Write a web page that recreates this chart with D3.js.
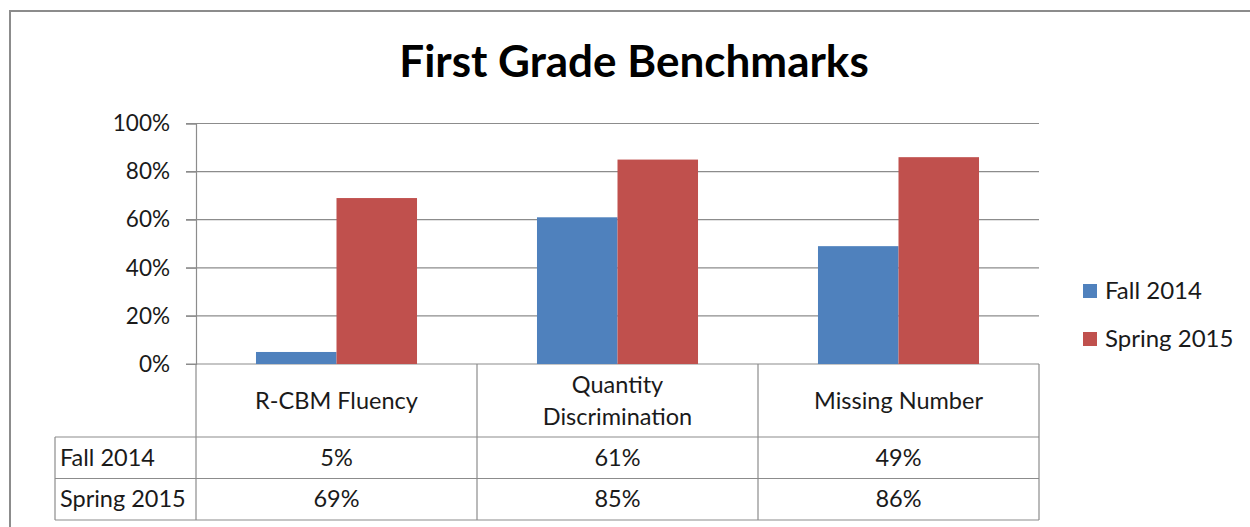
<!DOCTYPE html>
<html>
  <head>
    <title>First Grade Benchmarks</title>
    <script src="https://cdn.jsdelivr.net/npm/d3@7"></script>
    <style>
      body { margin: 0; background: #fff; }
      svg { font-family: Lato, "Open Sans", sans-serif; }
    </style>
  </head>
  <body>
    <svg id="chart" width="1250" height="527"></svg>
    <script>
      const categories = ["R-CBM Fluency", "Quantity Discrimination", "Missing Number"];
      const categoryLines = [["R-CBM Fluency"], ["Quantity", "Discrimination"], ["Missing Number"]];
      const seriesNames = ["Fall 2014", "Spring 2015"];
      const fall2014 = [0.05, 0.61, 0.49];
      const spring2015 = [0.69, 0.85, 0.86];
      const yTicks = [0, 0.2, 0.4, 0.6, 0.8, 1.0];
      const colors = ["#4F81BD", "#C0504D"];

      const seriesValues = [fall2014, spring2015];
      const svg = d3.select("#chart");
      const textColor = "#1a1a1a";

      // outer chart border (runs off the right and bottom edge)
      svg.append("rect")
        .attr("x", 10).attr("y", 11)
        .attr("width", 1260).attr("height", 540)
        .attr("fill", "none").attr("stroke", "#8c8c8c").attr("stroke-width", 2);

      svg.append("text")
        .attr("x", 634).attr("y", 77)
        .attr("text-anchor", "middle")
        .attr("font-size", 44).attr("font-weight", "bold")
        .attr("fill", "#000")
        .text("First Grade Benchmarks");

      const plotLeft = 196, plotRight = 1039, plotTop = 123.5, plotBottom = 364;
      const gridColor = "#8c8c8c";

      const x0 = d3.scaleBand().domain(categories).range([plotLeft, plotRight]);
      const x1 = d3.scaleBand().domain(seriesNames).range([0, x0.bandwidth()]).paddingOuter(0.745);
      const y = d3.scaleLinear().domain([0, 1]).range([plotBottom, plotTop]);

      // gridlines
      svg.append("g")
        .selectAll("line")
        .data(yTicks)
        .join("line")
        .attr("x1", plotLeft - 10).attr("x2", plotRight)
        .attr("y1", d => y(d)).attr("y2", d => y(d))
        .attr("stroke", gridColor).attr("stroke-width", 1.2);

      // y axis
      const yAxis = svg.append("g")
        .attr("transform", `translate(${plotLeft},0)`)
        .call(d3.axisLeft(y).tickValues(yTicks).tickFormat(d3.format(".0%")).tickSize(10).tickPadding(16));
      yAxis.select(".domain").attr("stroke", gridColor).attr("stroke-width", 1.2);
      yAxis.selectAll(".tick line").attr("stroke", gridColor);
      yAxis.selectAll(".tick text")
        .attr("font-size", 22.5).attr("fill", textColor)
        .attr("font-family", "Lato, sans-serif");

      // bars
      svg.append("g")
        .selectAll("g")
        .data(seriesNames)
        .join("g")
        .attr("fill", (d, i) => colors[i])
        .selectAll("rect")
        .data((s, si) => categories.map((c, ci) => ({ c, s, v: seriesValues[si][ci] })))
        .join("rect")
        .attr("x", d => x0(d.c) + x1(d.s))
        .attr("width", x1.bandwidth())
        .attr("y", d => y(d.v))
        .attr("height", d => y(0) - y(d.v));

      // data table
      const tableLeft = 55, headerBottom = 437, rowH = 41.5;
      const table = svg.append("g").attr("stroke", gridColor).attr("stroke-width", 1.2);
      const rowLines = [headerBottom, headerBottom + rowH, headerBottom + 2 * rowH];
      table.selectAll(".h")
        .data(rowLines)
        .join("line")
        .attr("x1", tableLeft).attr("x2", plotRight)
        .attr("y1", d => d).attr("y2", d => d);
      const colEdges = categories.map(c => x0(c)).concat([plotRight]);
      table.selectAll(".v")
        .data(colEdges)
        .join("line")
        .attr("x1", d => d).attr("x2", d => d)
        .attr("y1", plotBottom).attr("y2", rowLines[2]);
      table.append("line")
        .attr("x1", tableLeft).attr("x2", tableLeft)
        .attr("y1", headerBottom).attr("y2", rowLines[2]);

      const tableFont = 23.5;

      // category headers
      svg.append("g")
        .selectAll("text")
        .data(categories)
        .join("text")
        .attr("text-anchor", "middle")
        .attr("font-size", tableFont).attr("fill", textColor)
        .each(function (c, i) {
          const lines = categoryLines[i];
          const cy = (plotBottom + headerBottom) / 2;
          d3.select(this).selectAll("tspan")
            .data(lines)
            .join("tspan")
            .attr("x", x0(c) + x0.bandwidth() / 2)
            .attr("y", (d, j) => cy + 8 + (j - (lines.length - 1) / 2) * 32)
            .text(d => d);
        });

      // row labels and values
      seriesNames.forEach((s, si) => {
        const cy = headerBottom + rowH * si + rowH / 2 + 8;
        svg.append("text")
          .attr("x", tableLeft + 5).attr("y", cy)
          .attr("font-size", tableFont).attr("fill", textColor)
          .text(s);
        svg.append("g")
          .selectAll("text")
          .data(categories)
          .join("text")
          .attr("x", c => x0(c) + x0.bandwidth() / 2)
          .attr("y", cy)
          .attr("text-anchor", "middle")
          .attr("font-size", tableFont).attr("fill", textColor)
          .text((c, ci) => d3.format(".0%")(seriesValues[si][ci]));
      });

      // legend
      const legend = svg.append("g")
        .selectAll("g")
        .data(seriesNames)
        .join("g")
        .attr("transform", (d, i) => `translate(1083,${284 + i * 48})`);
      legend.append("rect")
        .attr("width", 14).attr("height", 14)
        .attr("fill", (d, i) => colors[i]);
      legend.append("text")
        .attr("x", 22).attr("y", 15)
        .attr("font-size", 24).attr("fill", textColor)
        .text(d => d);
    </script>
  </body>
</html>
